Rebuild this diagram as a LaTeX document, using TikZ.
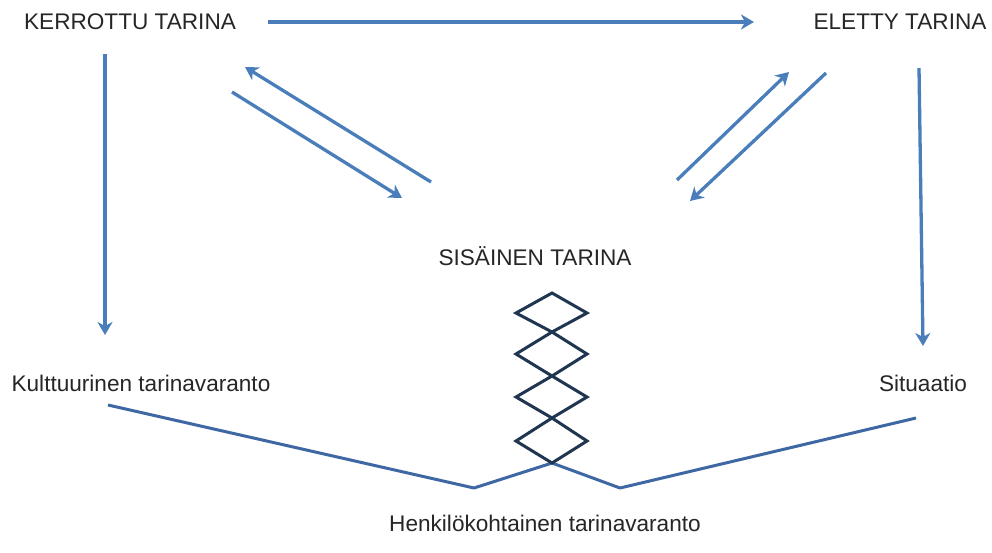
\documentclass[tikz,border=0pt]{standalone}
\usepackage{fontspec}
\setmainfont{Liberation Sans}
\usetikzlibrary{arrows.meta}
\definecolor{arrblue}{HTML}{4A7EBB}
\definecolor{lineblue}{HTML}{3E67A3}
\definecolor{zigdark}{HTML}{1F3550}
\begin{document}
\begin{tikzpicture}[x=1pt,y=-1pt,
  lbl/.style={inner sep=0pt,text=black!85,font=\fontsize{22.6}{26}\selectfont},
  arr/.style={draw=arrblue,line width=3.3pt,-{Stealth[length=13pt,width=15pt,inset=4pt]}},
  baseline/.style={draw=lineblue,line width=3pt,line join=round},
  zig/.style={draw=zigdark,line width=3pt,line join=miter}]
\useasboundingbox (0,0) rectangle (992,552);
% labels
\node[lbl] (k) at (130,22) {KERROTTU TARINA};
\node[lbl] (e) at (900,22) {ELETTY TARINA};
\node[lbl] (s) at (535,256) {SISÄINEN TARINA};
\node[lbl] (ku) at (141,383) {Kulttuurinen tarinavaranto};
\node[lbl] (si) at (923,383) {Situaatio};
\node[lbl] (h) at (545,523) {Henkilökohtainen tarinavaranto};
% arrow end points
\coordinate (ts) at (268,22);
\coordinate (te) at (754,22);
\coordinate (lvs) at (105,54);
\coordinate (lve) at (105,335);
\coordinate (rvs) at (919,68);
\coordinate (rve) at (923,346);
\coordinate (l1s) at (431,182);
\coordinate (l1e) at (245,67);
\coordinate (l2s) at (232,92);
\coordinate (l2e) at (402,198);
\coordinate (r1s) at (677,180);
\coordinate (r1e) at (789,72);
\coordinate (r2s) at (826,73);
\coordinate (r2e) at (690,201);
\draw[arr] (ts) -- (te);
\draw[arr] (lvs) -- (lve);
\draw[arr] (rvs) -- (rve);
\draw[arr] (l1s) -- (l1e);
\draw[arr] (l2s) -- (l2e);
\draw[arr] (r1s) -- (r1e);
\draw[arr] (r2s) -- (r2e);
% bottom lines
\coordinate (bl) at (108,405);
\coordinate (bv1) at (474,488);
\coordinate (bz) at (552,463);
\coordinate (bv2) at (620,488);
\coordinate (br) at (916,418);
\draw[baseline] (bl) -- (bv1) -- (bz) -- (bv2) -- (br);
% zigzag diamonds
\foreach \t/\m/\b in {293/313/332, 332/354/376, 376/397/418, 418/441/463}{
  \draw[zig] (552,\t) -- (587,\m) -- (552,\b) -- (516,\m) -- cycle;
}
\end{tikzpicture}
\end{document}
